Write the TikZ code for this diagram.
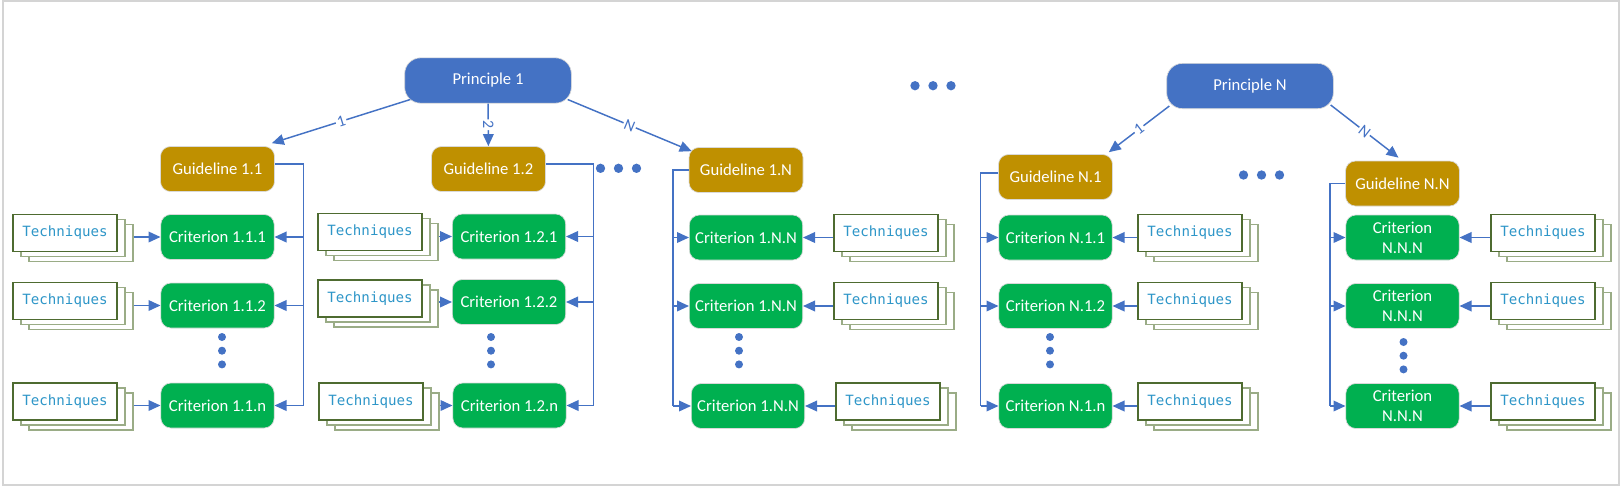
\documentclass[tikz,border=0pt]{standalone}
\usepackage{fontspec}
\setmainfont{Carlito}
\newfontfamily\techfont{DejaVu Sans Mono}
\usetikzlibrary{arrows.meta,shadows}
\definecolor{princol}{HTML}{4472C4}
\definecolor{guidecol}{HTML}{BF9000}
\definecolor{critcol}{HTML}{00B050}
\definecolor{techtext}{HTML}{2E96C8}
\definecolor{techfront}{HTML}{4E6B30}
\definecolor{techback}{HTML}{9AAC86}
\definecolor{framecol}{HTML}{D4D4D4}

\begin{document}
\begin{tikzpicture}[x=0.75pt,y=-0.75pt,>={Triangle[length=9pt,width=8pt]},
    box/.style={draw=black!15,line width=0.5pt,text=white,align=center,inner sep=0pt,
        font=\fontsize{12.5}{15}\selectfont,rounded corners=7.5pt},
    prin/.style={box,fill=princol,minimum width=125pt,minimum height=34pt,rounded corners=12pt},
    guide/.style={box,fill=guidecol,minimum width=85.5pt,minimum height=33.75pt},
    crit/.style={box,fill=critcol,minimum width=85pt,minimum height=33.75pt},
    tech/.style={draw=techfront,fill=white,line width=0.9pt,minimum width=78pt,minimum height=27.75pt,
        inner sep=0pt,text=techtext,font=\techfont\fontsize{10.6}{12}\selectfont,
        general shadow={shadow scale=1,shadow xshift=12pt,shadow yshift=-7.5pt,fill=white,draw=techback,line width=1pt},
        general shadow={shadow scale=1,shadow xshift=6pt,shadow yshift=-3.75pt,fill=white,draw=techback,line width=1pt}},
    conn/.style={color=princol,line width=1.1pt},
    lab/.style={fill=white,text=princol,font=\fontsize{12}{13}\selectfont,inner sep=1pt,sloped}]

    \useasboundingbox (0,0) rectangle (1624,487);
    \draw[framecol,line width=1.5pt] (3,1) rectangle (1619,485);

    % principles and guidelines
    \node[prin] (p1) at (488,80.5) {Principle 1};
    \node[prin] (pN) at (1250,86) {Principle N};

    \node[guide] (g11) at (217.5,169) {Guideline 1.1};
    \node[guide] (g12) at (488.5,169) {Guideline 1.2};
    \node[guide] (g1N) at (746,170) {Guideline 1.N};
    \node[guide] (gN1) at (1055.5,177) {Guideline N.1};
    \node[guide] (gNN) at (1402.5,183.5) {Guideline N.N};

    \path[conn,->] ([shift={(6,-4)}]p1.south west) edge node[lab] {1} ([shift={(-3,-3)}]g11.north east)
                   (p1) edge node[lab] {2} (g12)
                   ([shift={(-4,-4)}]p1.south east) edge node[lab] {N} ([shift={(3,4)}]g1N.north west)
                   ([shift={(3,-3)}]pN.south west) edge node[lab] {1} ([shift={(-4,-2)}]gN1.north east)
                   ([shift={(-3,-4)}]pN.south east) edge node[lab] {N} ([shift={(-4,-3)}]gNN.north);

    % criteria
    \node[crit] (c111) at (217.5,237) {Criterion 1.1.1};
    \node[crit] (c112) at (217.5,305.5) {Criterion 1.1.2};
    \node[crit] (c11n) at (217.5,405.5) {Criterion 1.1.n};

    \node[crit] (c121) at (509,236.5) {Criterion 1.2.1};
    \node[crit] (c122) at (509,302) {Criterion 1.2.2};
    \node[crit] (c12n) at (509.5,405.5) {Criterion 1.2.n};

    \node[crit] (c1N1) at (746,237.5) {Criterion 1.N.N};
    \node[crit] (c1N2) at (746,306) {Criterion 1.N.N};
    \node[crit] (c1N3) at (748,406) {Criterion 1.N.N};

    \node[crit] (cN11) at (1055.5,237.5) {Criterion N.1.1};
    \node[crit] (cN12) at (1055.5,306) {Criterion N.1.2};
    \node[crit] (cN1n) at (1055.5,406) {Criterion N.1.n};

    \node[crit] (cNN1) at (1402.5,237.5) {Criterion\\N.N.N};
    \node[crit] (cNN2) at (1402.5,306) {Criterion\\N.N.N};
    \node[crit] (cNN3) at (1402.5,406) {Criterion\\N.N.N};

    % techniques
    \node[tech] (t111) at (65,233) {Techniques};
    \node[tech] (t112) at (65,301) {Techniques};
    \node[tech] (t11n) at (65,401.5) {Techniques};

    \node[tech] (t121) at (370,232) {Techniques};
    \node[tech] (t122) at (370,298.5) {Techniques};
    \node[tech] (t12n) at (371,401.5) {Techniques};

    \node[tech] (t1N1) at (886,233) {Techniques};
    \node[tech] (t1N2) at (886,301) {Techniques};
    \node[tech] (t1N3) at (888,401.5) {Techniques};

    \node[tech] (tN11) at (1190,233) {Techniques};
    \node[tech] (tN12) at (1190,301) {Techniques};
    \node[tech] (tN1n) at (1190,401.5) {Techniques};

    \node[tech] (tNN1) at (1543,233) {Techniques};
    \node[tech] (tNN2) at (1543,301) {Techniques};
    \node[tech] (tNN3) at (1543,401.5) {Techniques};

    \path[conn,->] ([xshift=12pt]t111.east |- c111) edge (c111)
                   ([xshift=12pt]t112.east |- c112) edge (c112)
                   ([xshift=12pt]t11n.east |- c11n) edge (c11n)
                   ([xshift=12pt]t121.east |- c121) edge (c121)
                   ([xshift=12pt]t122.east |- c122) edge (c122)
                   ([xshift=12pt]t12n.east |- c12n) edge (c12n)
                   (t1N1.west |- c1N1) edge (c1N1)
                   (t1N2.west |- c1N2) edge (c1N2)
                   (t1N3.west |- c1N3) edge (c1N3)
                   (tN11.west |- cN11) edge (cN11)
                   (tN12.west |- cN12) edge (cN12)
                   (tN1n.west |- cN1n) edge (cN1n)
                   (tNN1.west |- cNN1) edge (cNN1)
                   (tNN2.west |- cNN2) edge (cNN2)
                   (tNN3.west |- cNN3) edge (cNN3);

    % trunks from the guidelines
    \coordinate (k11) at (303.5,0);
    \coordinate (k12) at (593.5,0);
    \coordinate (k1N) at (673,0);
    \coordinate (kN1) at (980.5,0);
    \coordinate (kNN) at (1330,0);

    \draw[conn] ([yshift=3.75pt]g11.east) -| (k11 |- c11n);
    \draw[conn] ([yshift=3.75pt]g12.east) -| (k12 |- c12n);
    \draw[conn] (g1N.west) -| (k1N |- c1N3);
    \draw[conn] ([yshift=3pt]gN1.west) -| (kN1 |- cN1n);
    \draw[conn] (gNN.west) -| (kNN |- cNN3);

    \path[conn,->] (k11 |- c111) edge (c111)
                   (k11 |- c112) edge (c112)
                   (k11 |- c11n) edge (c11n)
                   (k12 |- c121) edge (c121)
                   (k12 |- c122) edge (c122)
                   (k12 |- c12n) edge (c12n)
                   (k1N |- c1N1) edge (c1N1)
                   (k1N |- c1N2) edge (c1N2)
                   (k1N |- c1N3) edge (c1N3)
                   (kN1 |- cN11) edge (cN11)
                   (kN1 |- cN12) edge (cN12)
                   (kN1 |- cN1n) edge (cN1n)
                   (kNN |- cNN1) edge (cNN1)
                   (kNN |- cNN2) edge (cNN2)
                   (kNN |- cNN3) edge (cNN3);

    % ellipses
    \foreach \x/\y in {915/85.7, 600.5/168.3, 1243.5/175}
        \foreach \k in {0,1,2}
            \fill[princol] ({\x+18*\k},\y) circle (3.5pt);
    \foreach \x/\y in {222/337, 491/337, 739/337, 1050/337, 1403.5/342}
        \foreach \k in {0,1,2}
            \fill[princol] (\x,{\y+13.7*\k}) circle (3pt);
\end{tikzpicture}
\end{document}
